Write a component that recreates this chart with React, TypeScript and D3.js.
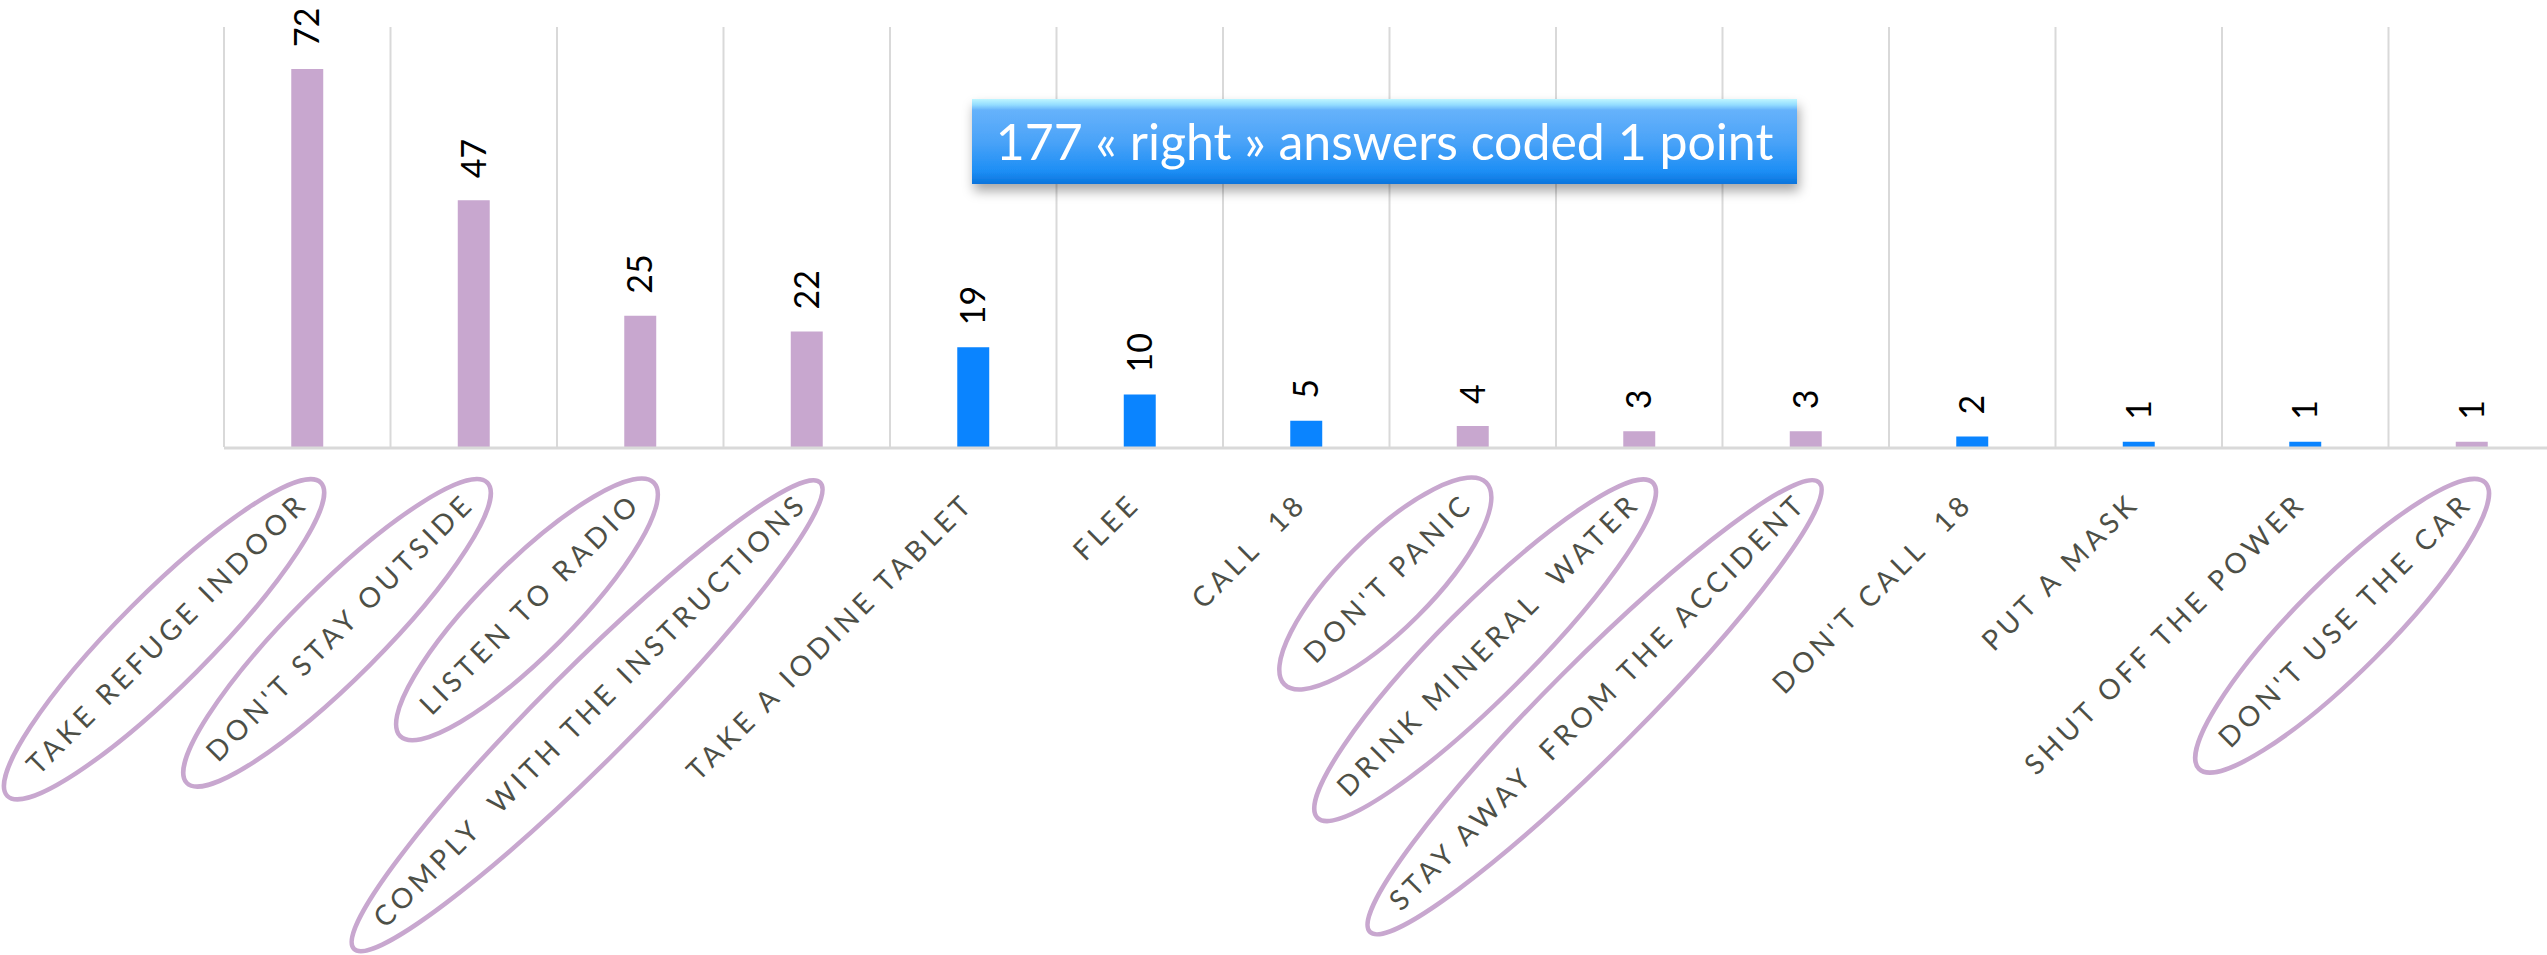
import { useEffect, useRef } from "react";
import * as d3 from "d3";

// answers given by respondents, and how many gave each one
const answers = [
  "TAKE REFUGE INDOOR",
  "DON'T STAY OUTSIDE",
  "LISTEN TO RADIO",
  "COMPLY  WITH THE INSTRUCTIONS",
  "TAKE A IODINE TABLET",
  "FLEE",
  "CALL  18",
  "DON'T PANIC",
  "DRINK MINERAL  WATER",
  "STAY AWAY  FROM THE ACCIDENT",
  "DON'T CALL  18",
  "PUT A MASK",
  "SHUT OFF THE POWER",
  "DON'T USE THE CAR",
];
const counts = [72, 47, 25, 22, 19, 10, 5, 4, 3, 3, 2, 1, 1, 1];
// answers coded 1 point (circled, purple)
const isRight = [true, true, true, true, false, false, false, true, true, true, false, false, false, true];

const noteText = "177 « right » answers coded 1 point";

const W = 2547;
const H = 955;
const PURPLE = "#c8a7cf";
const BLUE = "#0a84ff";

function App() {
  const svgRef = useRef<SVGSVGElement>(null);

  useEffect(() => {
    const svg = d3.select(svgRef.current);
    svg.selectAll("*").remove();

    const step = 166.5;
    const x0 = 224;
    const x = d3
      .scaleBand()
      .domain(answers)
      .range([x0, x0 + step * answers.length])
      .padding(0);

    const y = d3.scaleLinear().domain([0, 80]).range([447, 27]);

    const barW = x.bandwidth() * 0.192;

    const defs = svg.append("defs");
    const grad = defs
      .append("linearGradient")
      .attr("id", "boxGrad")
      .attr("x1", 0)
      .attr("y1", 0)
      .attr("x2", 0)
      .attr("y2", 1);
    [
      [0, "#bff6ff"],
      [0.07, "#93dcff"],
      [0.13, "#66b2fb"],
      [0.5, "#4aa3f8"],
      [0.85, "#1d8ef5"],
      [1, "#0a74dc"],
    ].forEach(([o, c]) => grad.append("stop").attr("offset", o as number).attr("stop-color", c as string));

    const shadow = defs
      .append("filter")
      .attr("id", "shadow")
      .attr("x", "-10%")
      .attr("y", "-30%")
      .attr("width", "120%")
      .attr("height", "180%");
    shadow
      .append("feDropShadow")
      .attr("dx", 2)
      .attr("dy", 7)
      .attr("stdDeviation", 6)
      .attr("flood-color", "#000")
      .attr("flood-opacity", 0.35);

    // vertical gridlines at band edges
    const edges = d3.range(answers.length + 1).map((i) => x0 + i * x.step());
    svg
      .append("g")
      .selectAll("line")
      .data(edges)
      .join("line")
      .attr("x1", (d) => d)
      .attr("x2", (d) => d)
      .attr("y1", y(80))
      .attr("y2", y(0))
      .attr("stroke", "#d9d9d9")
      .attr("stroke-width", 2);

    // bars
    svg
      .append("g")
      .selectAll("rect")
      .data(answers)
      .join("rect")
      .attr("x", (d) => (x(d) as number) + x.bandwidth() / 2 - barW / 2)
      .attr("width", barW)
      .attr("y", (d, i) => y(counts[i]))
      .attr("height", (d, i) => y(0) - y(counts[i]) + 2)
      .attr("fill", (d, i) => (isRight[i] ? PURPLE : BLUE));

    // axis line
    svg
      .append("line")
      .attr("x1", x0)
      .attr("x2", W)
      .attr("y1", y(0) + 1)
      .attr("y2", y(0) + 1)
      .attr("stroke", "#d9d9d9")
      .attr("stroke-width", 3);

    // value labels, rotated
    const vfs = 34;
    svg
      .append("g")
      .selectAll("text")
      .data(answers)
      .join("text")
      .attr(
        "transform",
        (d, i) =>
          `translate(${(x(d) as number) + x.bandwidth() / 2 + vfs * 0.36},${y(counts[i]) - 22}) rotate(-90)`
      )
      .attr("font-family", "Lato, 'Open Sans', sans-serif")
      .attr("font-size", vfs)
      .attr("fill", "#000")
      .text((d, i) => counts[i]);

    // category labels at -45 degrees, circled when coded right
    const lfs = 28;
    const cap = lfs * 0.72;
    const lab = svg
      .append("g")
      .selectAll("g")
      .data(answers)
      .join("g")
      .attr("transform", (d) => `translate(${(x(d) as number) + x.bandwidth() / 2 - 12},491) rotate(-45)`);

    lab
      .append("text")
      .attr("text-anchor", "end")
      .attr("dy", cap)
      .attr("font-family", "Lato, 'Open Sans', sans-serif")
      .attr("font-size", lfs)
      .attr("letter-spacing", 4.5)
      .style("white-space", "pre")
      .attr("fill", "#4d4f46")
      .text((d) => d);

    lab.each(function (d, i) {
      if (!isRight[i]) return;
      const g = d3.select(this);
      const len = (g.select("text").node() as SVGTextElement).getComputedTextLength();
      g.insert("ellipse", "text")
        .attr("cx", -len / 2 - 6)
        .attr("cy", cap / 2 + 2)
        .attr("rx", len / 2 + 30)
        .attr("ry", 46)
        .attr("fill", "none")
        .attr("stroke", PURPLE)
        .attr("stroke-width", 4.5);
    });

    // annotation box
    const box = svg.append("g").attr("transform", "translate(972,99)");
    box
      .append("rect")
      .attr("width", 825)
      .attr("height", 85)
      .attr("fill", "url(#boxGrad)")
      .attr("filter", "url(#shadow)");
    box
      .append("text")
      .attr("x", 825 / 2)
      .attr("y", 61)
      .attr("text-anchor", "middle")
      .attr("font-family", "Lato, 'Open Sans', sans-serif")
      .attr("font-size", 50)
      .attr("fill", "#fff")
      .style("white-space", "pre")
      .text(noteText);
  }, []);

  return (
    <svg
      ref={svgRef}
      width={W}
      height={H}
      style={{ position: "absolute", left: 0, top: 0, background: "#fff" }}
    />
  );
}

export default App;
